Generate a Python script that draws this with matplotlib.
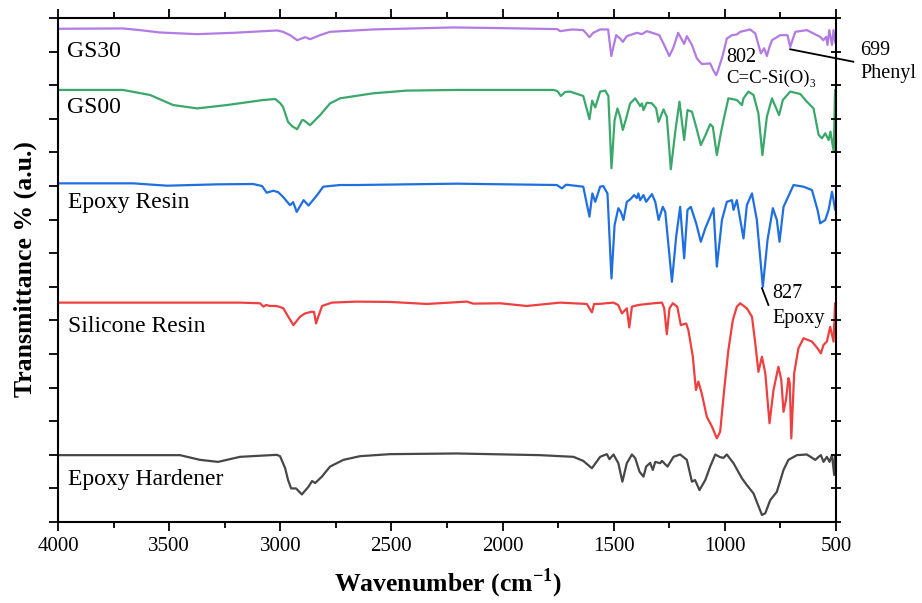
import matplotlib
matplotlib.use("Agg")
import matplotlib.pyplot as plt
from matplotlib.ticker import MultipleLocator

plt.rcParams['font.family'] = ['Liberation Serif', 'DejaVu Serif']
plt.rcParams['mathtext.fontset'] = 'custom'
plt.rcParams['mathtext.rm'] = 'Liberation Serif:bold'
plt.rcParams['mathtext.bf'] = 'Liberation Serif:bold'

# ---------------- data (wavenumber cm-1, transmittance a.u. with stacking offset) -------------
gs30_wn = [4000, 3708, 3631, 3541, 3374, 3212, 3014, 2988, 2956, 2924, 2888, 2866, 2821, 2776, 2582,
           2222, 2011, 1754, 1741, 1687, 1637, 1609, 1592, 1561, 1525, 1511, 1489, 1471, 1459,
           1441, 1396, 1373, 1351, 1322, 1295, 1273, 1250, 1232, 1210, 1183, 1171, 1148, 1126,
           1103, 1066, 1052, 1039, 1030, 1009, 991, 968, 946, 931, 886, 863, 838, 823, 811,
           799, 788, 751, 718, 706, 683, 631, 571, 557, 544, 538, 530, 518, 511, 503]
gs30_t = [14.68, 14.69, 14.64, 14.57, 14.52, 14.56, 14.63, 14.59, 14.49, 14.34, 14.43, 14.37, 14.49,
          14.59, 14.66, 14.72, 14.70, 14.67, 14.61, 14.66, 14.64, 14.43, 14.56, 14.66, 14.66,
          13.87, 14.49, 14.39, 14.29, 14.46, 14.56, 14.52, 14.61, 14.55, 14.49, 14.20, 13.87,
          14.11, 14.56, 14.23, 14.46, 14.20, 13.80, 13.63, 13.65, 13.45, 13.30, 13.45, 13.90,
          14.39, 14.49, 14.51, 14.59, 14.66, 14.54, 13.95, 14.10, 13.87, 14.14, 14.34, 14.49,
          14.49, 14.14, 14.59, 14.64, 14.44, 14.34, 14.44, 14.20, 14.64, 14.20, 14.64, 14.26]

gs00_wn = [4000, 3708, 3586, 3482, 3374, 3240, 3077, 3023, 3001, 2988, 2965, 2947, 2924, 2902, 2895,
           2866, 2821, 2776, 2731, 2582, 2431, 2206, 1772, 1754, 1738, 1718, 1696, 1637, 1609,
           1597, 1583, 1561, 1538, 1524, 1510, 1496, 1483, 1471, 1459, 1444, 1426, 1403, 1381,
           1373, 1366, 1351, 1328, 1309, 1298, 1276, 1261, 1243, 1222, 1204, 1183, 1168, 1148,
           1129, 1108, 1088, 1066, 1054, 1036, 1018, 1006, 984, 946, 923, 916, 894, 871, 849,
           831, 811, 788, 756, 739, 706, 661, 631, 601, 578, 563, 548, 533, 525, 510, 504]
gs00_t = [12.86, 12.86, 12.71, 12.41, 12.31, 12.41, 12.56, 12.59, 12.47, 12.36, 11.91, 11.78, 11.69,
          11.96, 11.96, 11.81, 12.11, 12.46, 12.61, 12.76, 12.84, 12.86, 12.86, 12.83, 12.68,
          12.80, 12.81, 12.68, 11.99, 12.54, 12.34, 12.81, 12.84, 12.68, 10.53, 11.96, 12.31,
          12.06, 11.67, 12.01, 12.46, 12.61, 12.38, 12.46, 12.26, 12.48, 12.46, 12.31, 11.91,
          12.28, 12.06, 10.50, 11.67, 12.51, 11.37, 12.26, 12.21, 11.76, 11.22, 11.50, 11.84,
          11.76, 10.92, 11.57, 11.96, 12.61, 12.56, 12.41, 12.61, 12.81, 12.71, 12.16, 10.92,
          12.06, 12.61, 12.11, 12.56, 12.81, 12.74, 12.51, 12.31, 11.52, 11.42, 11.57, 11.37,
          11.62, 11.02, 12.86]

epoxy_wn = [4000, 3663, 3509, 3284, 3122, 3082, 3061, 3032, 3010, 2988, 2965, 2956, 2942, 2926,
            2895, 2873, 2834, 2807, 2731, 2656, 2206, 1756, 1733, 1714, 1637, 1609, 1596, 1583,
            1561, 1547, 1528, 1510, 1496, 1479, 1468, 1456, 1441, 1426, 1408, 1396, 1389, 1381,
            1366, 1354, 1328, 1313, 1298, 1279, 1268, 1238, 1219, 1201, 1183, 1168, 1153, 1129,
            1108, 1088, 1066, 1051, 1036, 1013, 991, 968, 961, 946, 916, 901, 878, 856, 829,
            808, 784, 766, 754, 736, 691, 646, 608, 583, 571, 548, 533, 518, 511, 504]
epoxy_t = [10.08, 10.08, 10.01, 10.05, 10.06, 10.00, 9.80, 9.86, 9.82, 9.68, 9.50, 9.43, 9.52,
           9.23, 9.58, 9.42, 9.73, 9.98, 10.03, 10.03, 10.07, 10.03, 9.93, 10.04, 9.98, 9.09,
           9.78, 9.53, 9.98, 10.00, 9.78, 7.25, 8.84, 9.34, 9.23, 8.99, 9.53, 9.60, 9.73, 9.64,
           9.78, 9.58, 9.73, 9.53, 9.76, 9.53, 8.99, 9.38, 9.23, 7.15, 8.49, 9.38, 7.85, 9.29,
           9.38, 8.89, 8.34, 8.74, 9.09, 9.34, 7.60, 8.99, 9.53, 9.58, 9.29, 9.58, 8.44, 9.43,
           9.78, 8.99, 7.00, 8.39, 9.34, 8.99, 8.34, 9.38, 10.03, 9.98, 9.88, 9.29, 8.89, 8.99,
           9.29, 9.83, 9.58, 9.29]

silicone_wn = [4000, 3392, 3181, 3091, 3076, 3064, 3046, 3016, 2986, 2964, 2941, 2911, 2888,
               2858, 2848, 2839, 2829, 2812, 2768, 2656, 2506, 2341, 2161, 2132, 2011, 1891,
               1741, 1621, 1598, 1588, 1568, 1501, 1480, 1463, 1441, 1430, 1418, 1389, 1321,
               1283, 1273, 1261, 1249, 1234, 1214, 1198, 1174, 1164, 1144, 1130, 1119, 1104,
               1081, 1058, 1036, 1021, 1003, 984, 964, 946, 931, 901, 878, 863, 849, 833, 818,
               799, 781, 759, 746, 736, 725, 714, 708, 701, 688, 669, 646, 608, 583, 568, 556,
               541, 526, 511, 504]
silicone_t = [6.53, 6.53, 6.53, 6.51, 6.41, 6.46, 6.43, 6.43, 6.36, 6.11, 5.86, 6.11, 6.21,
              6.26, 6.25, 5.91, 6.11, 6.43, 6.53, 6.56, 6.55, 6.49, 6.56, 6.50, 6.51, 6.43,
              6.53, 6.49, 6.24, 6.49, 6.49, 6.53, 6.46, 6.21, 6.36, 5.79, 6.41, 6.46, 6.51,
              6.53, 6.37, 5.59, 6.36, 6.51, 6.41, 5.86, 5.91, 5.71, 4.92, 3.93, 4.18, 3.83,
              3.13, 2.84, 2.49, 2.69, 3.93, 5.12, 6.01, 6.41, 6.51, 6.36, 6.11, 5.32, 4.47,
              4.92, 4.43, 2.94, 3.93, 4.62, 4.23, 3.28, 3.63, 4.28, 4.14, 2.49, 4.43, 5.17,
              5.47, 5.37, 5.17, 5.02, 5.27, 5.37, 5.81, 5.37, 6.51]

hardener_wn = [4000, 3451, 3361, 3280, 3181, 3016, 3001, 2978, 2965, 2951, 2929, 2903, 2873,
               2857, 2843, 2813, 2776, 2716, 2641, 2506, 2206, 1831, 1681, 1637, 1598, 1561,
               1531, 1519, 1501, 1479, 1461, 1441, 1418, 1403, 1384, 1366, 1354, 1336, 1324,
               1313, 1291, 1283, 1258, 1231, 1201, 1171, 1148, 1134, 1114, 1088, 1066, 1043,
               1021, 1006, 991, 961, 923, 901, 871, 833, 818, 796, 766, 736, 714, 676, 631,
               593, 578, 568, 556, 541, 529, 518, 508, 504]
hardener_t = [1.99, 1.99, 1.85, 1.79, 1.94, 2.00, 1.96, 1.60, 1.25, 1.00, 1.00, 0.82, 1.05,
              1.22, 1.16, 1.35, 1.65, 1.85, 1.96, 2.02, 2.04, 1.99, 1.94, 1.82, 1.60, 1.94,
              2.02, 1.87, 2.01, 1.75, 1.20, 1.75, 2.01, 1.90, 1.50, 1.35, 1.65, 1.76, 1.55,
              1.79, 1.75, 1.82, 1.65, 1.94, 2.01, 1.85, 1.20, 1.25, 0.95, 1.25, 1.65, 2.01,
              1.93, 1.91, 2.01, 1.75, 1.30, 1.10, 0.85, 0.21, 0.26, 0.65, 0.90, 1.55, 1.85,
              1.99, 2.01, 1.85, 1.94, 1.99, 1.79, 1.94, 1.79, 1.99, 1.40, 1.99]

series_names = ["GS30", "GS00", "Epoxy Resin", "Silicone Resin", "Epoxy Hardener"]
series_wn = [gs30_wn, gs00_wn, epoxy_wn, silicone_wn, hardener_wn]
series_t = [gs30_t, gs00_t, epoxy_t, silicone_t, hardener_t]
series_colors = ["#b27be3", "#3aa86a", "#1f6fe0", "#ef3f3f", "#474747"]
label_pos = [(3960, 13.85), (3960, 12.16), (3955, 9.34), (3955, 5.66), (3955, 1.10)]

x_ticks = [4000, 3500, 3000, 2500, 2000, 1500, 1000, 500]

# ---------------- figure -------------
fig = plt.figure(figsize=(9.22, 6.03), dpi=100)
ax = fig.add_axes([0.0629, 0.1343, 0.8438, 0.8358])

for wn, t, c in zip(series_wn, series_t, series_colors):
    ax.plot(wn, t, color=c, lw=1.6, solid_joinstyle='round', solid_capstyle='round')

for name, (x, y) in zip(series_names, label_pos):
    ax.text(x, y, name, fontsize=17, ha='left', va='baseline', color='black')

# annotations
ann_fs = 14.5
ax.text(992, 13.70, "802", fontsize=ann_fs, ha='left', va='baseline')
ax.text(992, 13.06, "C=C-Si(O)\u2083", fontsize=ann_fs - 1, ha='left', va='baseline')
ax.plot([706, 422], [14.07, 13.70], color='black', lw=1.3, clip_on=False)
ax.text(391, 13.90, "699", fontsize=ann_fs, ha='left', va='baseline', clip_on=False)
ax.text(391, 13.23, "Phenyl", fontsize=ann_fs, ha='left', va='baseline', clip_on=False)
ax.plot([833, 804], [6.96, 6.46], color='black', lw=1.3)
ax.text(788, 6.66, "827", fontsize=ann_fs, ha='left', va='baseline')
ax.text(788, 5.91, "Epoxy", fontsize=ann_fs, ha='left', va='baseline')

ax.set_xlim(4000, 500)
ax.set_ylim(0, 15)
ax.set_xticks(x_ticks)
ax.set_xticklabels([str(v) for v in x_ticks])
ax.xaxis.set_minor_locator(MultipleLocator(250))
ax.yaxis.set_major_locator(MultipleLocator(1))

for s in ax.spines.values():
    s.set_linewidth(1.5)

ax.tick_params(axis='x', which='major', direction='out', length=6.5, width=1.3,
               labelsize=15, top=True, bottom=True, pad=4)
ax.tick_params(axis='x', which='minor', direction='out', length=4, width=1.3,
               top=True, bottom=True)
ax.tick_params(axis='y', which='major', left=True, right=False, direction='out',
               length=6.5, width=1.3, labelleft=False)

# right-side ticks
axr = ax.twinx()
axr.set_ylim(ax.get_ylim())
axr.yaxis.set_major_locator(MultipleLocator(1))
axr.tick_params(axis='y', direction='inout', length=7, width=1.3, labelright=False)
for s in axr.spines.values():
    s.set_visible(False)

fig.text(0.486, 1 - 583 / 603, r"Wavenumber (cm$^{\mathbf{-1}}$)", fontsize=18.5,
         fontweight='bold', ha='center', va='center')
fig.text(0.027, 1 - 269 / 603, "Transmittance % (a.u.)", fontsize=18.5,
         fontweight='bold', ha='center', va='center', rotation=90)

fig.savefig("out.png", dpi=100)
